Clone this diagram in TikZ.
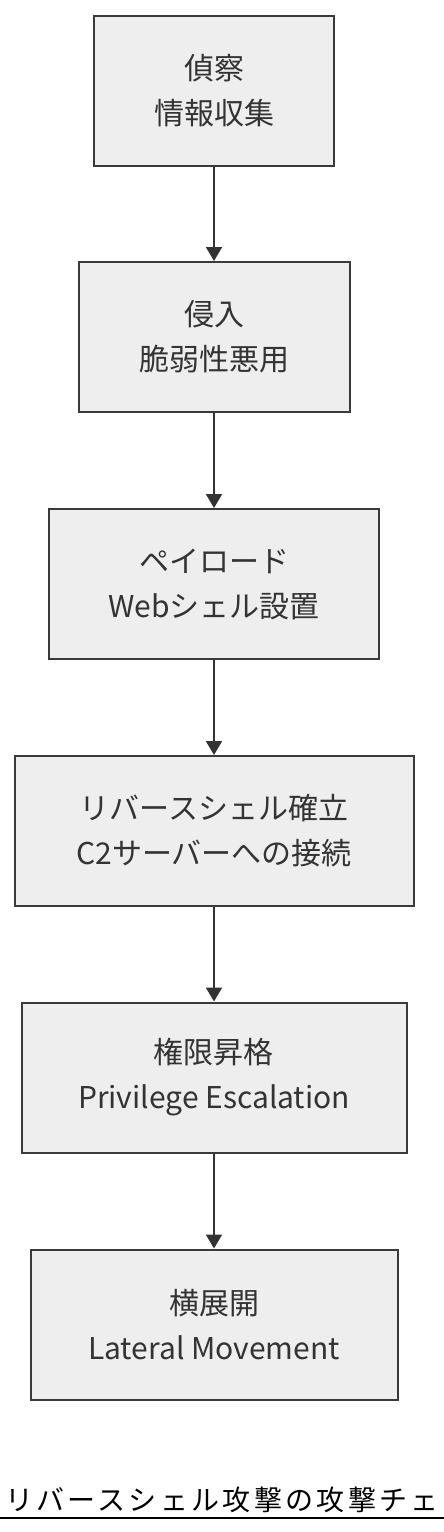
\documentclass[tikz,border=0pt]{standalone}
\usepackage{fontspec}
\setmainfont{Noto Sans CJK JP}
\usetikzlibrary{arrows.meta}

\begin{document}
\begin{tikzpicture}[x=1pt, y=-1pt,
    stagebox/.style={draw=boxline, line width=2pt, fill=boxfill, text=boxtext,
        minimum height=150pt, align=center, inner sep=0pt,
        font=\fontsize{30}{45}\selectfont},
    flowarrow/.style={draw=boxtext, line width=2pt, -{Triangle[width=16pt, length=14pt]}}]
    \definecolor{boxfill}{HTML}{EEEEEE}
    \definecolor{boxline}{HTML}{3A3A3A}
    \definecolor{boxtext}{HTML}{333333}

    \useasboundingbox (0,0) rectangle (444,1532);

    \node[stagebox, minimum width=240pt] (recon) at (214, 90.5) {偵察\\情報収集};
    \node[stagebox, minimum width=271pt] (intrusion) at (214, 337) {侵入\\脆弱性悪用};
    \node[stagebox, minimum width=330pt] (payload) at (214, 584) {ペイロード\\Webシェル設置};
    \node[stagebox, minimum width=399pt] (revshell) at (214, 831) {リバースシェル確立\\C2サーバーへの接続};
    \node[stagebox, minimum width=385pt] (privesc) at (214, 1077.5) {権限昇格\\Privilege Escalation};
    \node[stagebox, minimum width=367pt] (lateral) at (214, 1324.5) {横展開\\Lateral Movement};

    \draw[flowarrow] (recon) -- (intrusion);
    \draw[flowarrow] (intrusion) -- (payload);
    \draw[flowarrow] (payload) -- (revshell);
    \draw[flowarrow] (revshell) -- (privesc);
    \draw[flowarrow] (privesc) -- (lateral);

    % title, cut at the right edge
    \node[anchor=west, inner sep=0pt, font=\fontsize{28}{28}\selectfont\addfontfeature{LetterSpace=11.8}]
        (title) at (5, 1500) {リバースシェル攻撃の攻撃チェ};
    \draw[line width=2pt] (0, 1518) -- (444, 1518);
\end{tikzpicture}
\end{document}
